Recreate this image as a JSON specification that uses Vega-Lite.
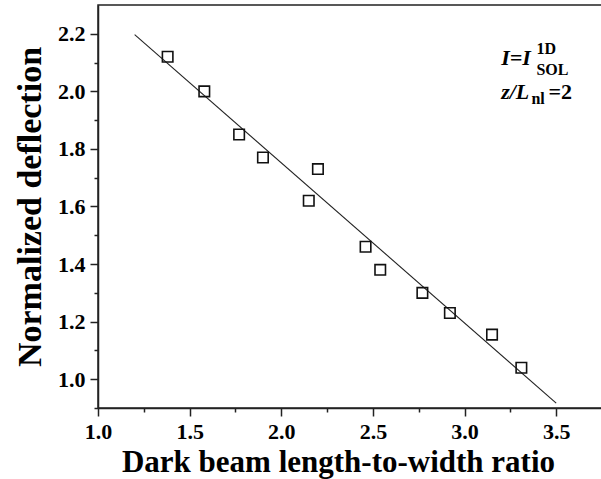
{
  "$schema": "https://vega.github.io/schema/vega-lite/v6.json",
  "width": 504,
  "height": 403,
  "autosize": {"type": "none"},
  "padding": {"left": 98, "top": 5, "right": 0, "bottom": 71},
  "background": "white",
  "config": {
    "font": "Liberation Serif",
    "view": {"stroke": "#222", "strokeWidth": 1.5},
    "axis": {
      "domainColor": "#222",
      "domainWidth": 1.5,
      "tickColor": "#222",
      "tickWidth": 1.5,
      "grid": false,
      "labelFont": "Liberation Serif",
      "labelFontWeight": "bold",
      "labelFontSize": 22,
      "labelColor": "black",
      "titleFont": "Liberation Serif",
      "titleFontWeight": "bold",
      "titleColor": "black"
    }
  },
  "datasets": {
    "points": [
      {"ratio": 1.38, "deflection": 2.12},
      {"ratio": 1.58, "deflection": 2.0},
      {"ratio": 1.77, "deflection": 1.85},
      {"ratio": 1.9, "deflection": 1.77},
      {"ratio": 2.2, "deflection": 1.73},
      {"ratio": 2.15, "deflection": 1.62},
      {"ratio": 2.46, "deflection": 1.46},
      {"ratio": 2.54, "deflection": 1.38},
      {"ratio": 2.77, "deflection": 1.3},
      {"ratio": 2.92, "deflection": 1.23},
      {"ratio": 3.15, "deflection": 1.155},
      {"ratio": 3.31, "deflection": 1.04}
    ],
    "fit": [
      {"ratio": 1.2, "deflection": 2.197},
      {"ratio": 3.5, "deflection": 0.917}
    ],
    "labelMain": [
      {"ratio": 3.2, "deflection": 2.116, "text": "I=I"},
      {"ratio": 3.2, "deflection": 1.998, "text": "z/L"}
    ],
    "labelPlain": [
      {"ratio": 3.458, "deflection": 1.998, "text": "=2"}
    ],
    "labelSmall": [
      {"ratio": 3.392, "deflection": 2.147, "text": "1D"},
      {"ratio": 3.392, "deflection": 2.074, "text": "SOL"},
      {"ratio": 3.365, "deflection": 1.972, "text": "nl"}
    ]
  },
  "encoding": {
    "x": {
      "field": "ratio",
      "type": "quantitative",
      "scale": {"domain": [1, 3.75], "nice": false, "zero": false},
      "axis": {
        "title": "Dark beam length-to-width ratio",
        "titleFontSize": 31,
        "titleX": 240,
        "values": [1, 1.25, 1.5, 1.75, 2, 2.25, 2.5, 2.75, 3, 3.25, 3.5, 3.75],
        "labelExpr": "(round(datum.value*4) % 2 == 0) ? format(datum.value, '.1f') : ''",
        "tickSize": {"condition": {"test": "round(datum.value*4) % 2 == 0", "value": 8}, "value": 4},
        "labelPadding": 5,
        "titlePadding": 5,
        "labelFlush": false,
        "labelOverlap": false
      }
    },
    "y": {
      "field": "deflection",
      "type": "quantitative",
      "scale": {"domain": [0.9, 2.3], "nice": false, "zero": false},
      "axis": {
        "title": "Normalized deflection",
        "titleFontSize": 34,
        "values": [0.9, 1.0, 1.1, 1.2, 1.3, 1.4, 1.5, 1.6, 1.7, 1.8, 1.9, 2.0, 2.1, 2.2],
        "labelExpr": "(round(datum.value*10) % 2 == 0) ? format(datum.value, '.1f') : ''",
        "tickSize": {"condition": {"test": "round(datum.value*10) % 2 == 0", "value": 8}, "value": 4},
        "labelPadding": 5,
        "titlePadding": 10,
        "labelFlush": false,
        "labelOverlap": false
      }
    }
  },
  "layer": [
    {
      "data": {"name": "fit"},
      "mark": {"type": "line", "color": "#222", "strokeWidth": 1.1}
    },
    {
      "data": {"name": "points"},
      "mark": {"type": "point", "shape": "square", "size": 110, "filled": false, "color": "#111", "strokeWidth": 1.6, "opacity": 1}
    },
    {
      "data": {"name": "labelMain"},
      "mark": {"type": "text", "align": "left", "baseline": "middle", "fontSize": 22, "fontStyle": "italic", "fontWeight": "bold", "font": "Liberation Serif", "color": "black"},
      "encoding": {"text": {"field": "text"}}
    },
    {
      "data": {"name": "labelPlain"},
      "mark": {"type": "text", "align": "left", "baseline": "middle", "fontSize": 22, "fontWeight": "bold", "font": "Liberation Serif", "color": "black"},
      "encoding": {"text": {"field": "text"}}
    },
    {
      "data": {"name": "labelSmall"},
      "mark": {"type": "text", "align": "left", "baseline": "middle", "fontSize": 16, "fontWeight": "bold", "font": "Liberation Serif", "color": "black"},
      "encoding": {"text": {"field": "text"}}
    }
  ]
}
